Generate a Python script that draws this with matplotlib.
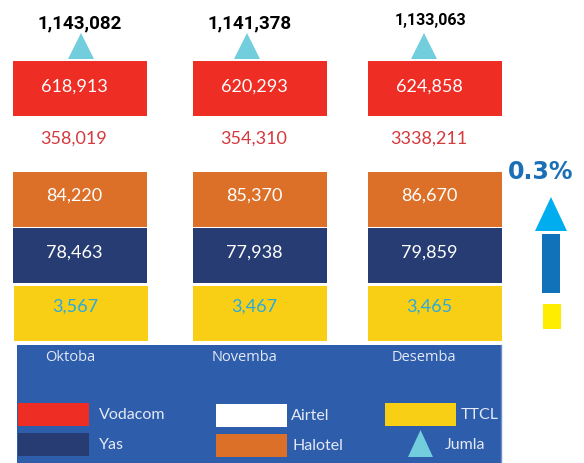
import matplotlib
matplotlib.use("Agg")
import matplotlib.pyplot as plt
from matplotlib.patches import Polygon, Rectangle

# ---------------- data ----------------
months = ["Oktoba", "Novemba", "Desemba"]
totals = [1143082, 1141378, 1133063]
vodacom = [618913, 620293, 624858]
airtel = ["358,019", "354,310", "3338,211"]   # as printed in the source
halotel = [84220, 85370, 86670]
yas = [78463, 77938, 79859]
ttcl = [3567, 3467, 3465]
change_label = "0.3%"
legend_names = ["Vodacom", "Airtel", "TTCL", "Yas", "Halotel", "Jumla"]

# ---------------- style ----------------
RED = "#EE2D24"
ORANGE = "#DD7028"
NAVY = "#263C73"
YELLOW = "#F8CF15"
PANEL = "#2E5DAB"
TRI = "#72CDDC"
AIRTEL_TXT = "#D5383D"
TTCL_TXT = "#28AAE1"
LIGHT = "#E3E9F5"

W, H = 584, 464
fig = plt.figure(figsize=(W / 100, H / 100), dpi=100)
ax = fig.add_axes([0, 0, 1, 1])
ax.set_xlim(0, W)
ax.set_ylim(H, 0)
ax.axis("off")

font = "Lato"
col_x = [80, 260, 435]
bar_w = 134
lab_dx = -6

def fmt(v):
    return f"{v:,}"

# rows: (values, top, height, color, text color, label offset)
rows = [
    (vodacom, 62, 55, RED, "white", -3),
    (halotel, 173, 55, ORANGE, "white", -5),
    (yas, 229, 55, NAVY, "white", -4),
    (ttcl, 287, 55, YELLOW, TTCL_TXT, -8),
]
for vals, top, h, color, tcol, dy in rows:
    xs = [c + (1 if (vals is ttcl and i == 0) else 0) for i, c in enumerate(col_x)]
    ax.bar(xs, [h] * len(vals), bottom=top, width=bar_w, color=color,
           linewidth=0, align="center")
    for x, v in zip(xs, vals):
        ax.text(x + lab_dx, top + h / 2 + dy, fmt(v), ha="center", va="center",
                color=tcol, fontsize=13, family=font)

# airtel (white row, text only)
for x, s in zip(col_x, airtel):
    ax.text(x + lab_dx, 139, s, ha="center", va="center", color=AIRTEL_TXT,
            fontsize=13, family=font)

# totals with triangles
tot_dx = [0, -10, -4]
tri_dx = [1, -13, -11]
tot_size = [13.5, 13.5, 11.5]
tot_y = [23, 23, 21]
for i, (x, t) in enumerate(zip(col_x, totals)):
    ax.text(x + tot_dx[i], tot_y[i], fmt(t), ha="center", va="center",
            color="black", fontsize=tot_size[i], family="Roboto",
            fontweight="bold")
    cx = x + tri_dx[i]
    ax.add_patch(Polygon([[cx - 13, 60], [cx + 13, 60], [cx, 34]],
                         closed=True, color=TRI, lw=0))

# legend panel
ax.add_patch(Rectangle((17, 346), 484, 118, color=PANEL, lw=0))
ax.plot([501, 501], [346, 464], color="#6F8FC8", lw=1)
for x, m in zip([70, 245, 424], months):
    ax.text(x, 358, m, ha="center", va="center", color=LIGHT,
            fontsize=10.5, family="Open Sans")

leg_items = [
    (18, 404, RED, legend_names[0], 99),
    (216, 405, "white", legend_names[1], 291),
    (385, 404, YELLOW, legend_names[2], 461),
    (18, 434, NAVY, legend_names[3], 99),
    (216, 435, ORANGE, legend_names[4], 293),
]
for x0, y0, c, name, tx in leg_items:
    ax.add_patch(Rectangle((x0, y0), 71, 23, color=c, lw=0))
    ax.text(tx, y0 + 11, name, ha="left", va="center", color=LIGHT,
            fontsize=11.5, family=font)
ax.add_patch(Polygon([[408, 458], [433, 458], [420.5, 431]], closed=True,
                     color=TRI, lw=0))
ax.text(445, 445, legend_names[5], ha="left", va="center", color=LIGHT,
        fontsize=11.5, family=font)

# change indicator
ax.text(541, 172, change_label, ha="center", va="center", color="#1A6FB5",
        fontsize=17, family="DejaVu Sans", fontweight="heavy")
ax.add_patch(Polygon([[535, 232], [567, 232], [551, 198]], closed=True,
                     color="#00AEEF", lw=0))
ax.add_patch(Rectangle((542, 235), 18, 59, color="#1172BA", lw=0))
ax.add_patch(Rectangle((543, 305), 18, 25, color="#FFED00", lw=0))

fig.savefig("out.png", dpi=100)
